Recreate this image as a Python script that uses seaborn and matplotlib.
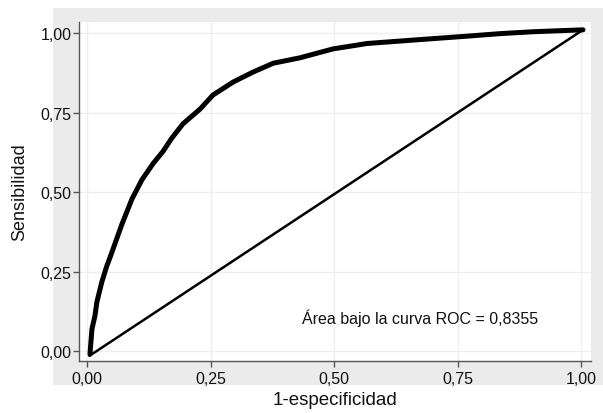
import matplotlib
matplotlib.use("Agg")
import matplotlib.pyplot as plt
import seaborn as sns
import pandas as pd
from matplotlib.patches import Rectangle

# ROC curve points (1-especificidad, sensibilidad)
fpr = [0.006, 0.008, 0.010, 0.016, 0.020, 0.030, 0.040, 0.047, 0.071, 0.091,
       0.111, 0.134, 0.154, 0.171, 0.194, 0.229, 0.255, 0.296, 0.336, 0.377,
       0.431, 0.498, 0.567, 0.680, 0.769, 0.836, 0.903, 1.004]
tpr = [-0.010, 0.030, 0.069, 0.110, 0.154, 0.217, 0.267, 0.296, 0.400, 0.478,
       0.538, 0.590, 0.628, 0.668, 0.714, 0.761, 0.805, 0.846, 0.877, 0.905,
       0.922, 0.950, 0.967, 0.980, 0.990, 0.998, 1.004, 1.010]

# reference (chance) line
diag_x = [0.005, 1.004]
diag_y = [-0.015, 1.010]

ticks = [0.0, 0.25, 0.5, 0.75, 1.0]
tick_labels = ["0,00", "0,25", "0,50", "0,75", "1,00"]
auc_text = "Área bajo la curva ROC = 0,8355"

sns.set_theme(style="white")
plt.rcParams['font.family'] = ['Liberation Sans', 'DejaVu Sans']

df_roc = pd.DataFrame({'fpr': fpr, 'tpr': tpr})
df_diag = pd.DataFrame({'x': diag_x, 'y': diag_y})

fig = plt.figure(figsize=(6.03, 4.14), dpi=100)
fig.patch.set_facecolor('white')
# grey graph region behind the plot area (Stata style)
fig.patches.append(Rectangle((53 / 603, 1 - 386 / 414), (603 - 53) / 603, (386 - 9) / 414,
                             transform=fig.transFigure, facecolor='#ebebeb',
                             edgecolor='none', zorder=-10))

ax = fig.add_axes([79 / 603, 1 - 362 / 414, 512 / 603, 339 / 414])
ax.set_zorder(1)
ax.set_facecolor('white')

sns.lineplot(data=df_roc, x='fpr', y='tpr', ax=ax, color='black', linewidth=3.6,
             estimator=None, sort=False, zorder=3)
sns.lineplot(data=df_diag, x='x', y='y', ax=ax, color='black', linewidth=1.8,
             estimator=None, sort=False, zorder=2)

ax.set_xlim(-0.0162, 1.0202)
ax.set_ylim(-0.0314, 1.0346)
ax.set_xticks(ticks)
ax.set_xticklabels(tick_labels)
ax.set_yticks(ticks)
ax.set_yticklabels(tick_labels)

ax.grid(True, color='#eeeeee', linewidth=1.0)
ax.set_axisbelow(True)
for side in ['top', 'right']:
    ax.spines[side].set_visible(False)
for side in ['left', 'bottom']:
    ax.spines[side].set_color('#555555')
    ax.spines[side].set_linewidth(1.0)

ax.tick_params(axis='both', which='major', direction='out', length=4, width=1,
               color='#555555', labelsize=11.5, labelcolor='#111111', left=True, bottom=True)
ax.tick_params(axis='y', pad=1.5)
ax.tick_params(axis='x', pad=3.5)

ax.set_xlabel('1-especificidad', fontsize=13.5, color='#111111')
ax.set_ylabel('Sensibilidad', fontsize=13, color='#111111')
ax.xaxis.set_label_coords(0.5, -0.0885)
ax.yaxis.set_label_coords(-0.100, 0.5)

ax.text(0.435, 0.107, auc_text, fontsize=11.5, color='#111111', ha='left', va='center')

fig.savefig('out.png', dpi=100, facecolor=fig.get_facecolor())
